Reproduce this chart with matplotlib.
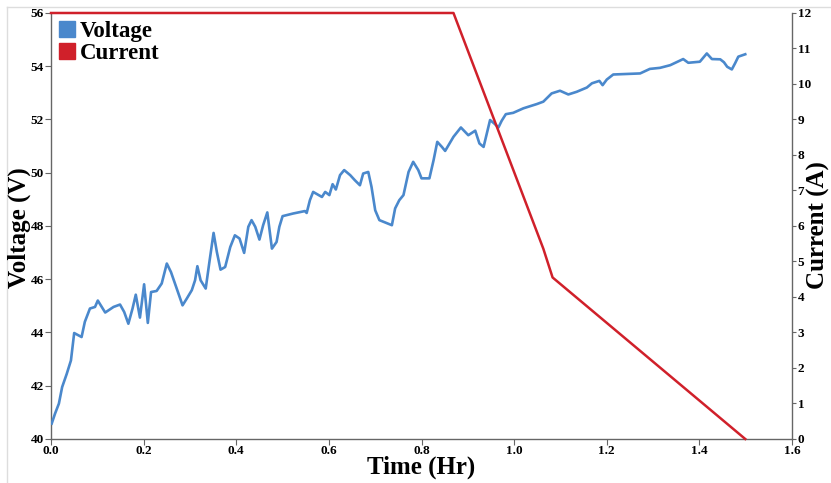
import matplotlib
matplotlib.use("Agg")
import matplotlib.pyplot as plt
from matplotlib.lines import Line2D

# Battery charging log: pack voltage and charge current vs. time
time_v = [0.0015, 0.0086, 0.017, 0.024, 0.034, 0.043, 0.050, 0.066, 0.073, 0.084,
          0.095, 0.101, 0.117, 0.135, 0.149, 0.158, 0.167, 0.176, 0.183, 0.192,
          0.201, 0.209, 0.216, 0.228, 0.239, 0.250, 0.259, 0.274, 0.284, 0.293,
          0.304, 0.311, 0.316, 0.323, 0.334, 0.342, 0.351, 0.358, 0.366, 0.376,
          0.387, 0.397, 0.407, 0.417, 0.426, 0.433, 0.441, 0.450, 0.458, 0.467,
          0.477, 0.487, 0.493, 0.500, 0.523, 0.548, 0.552, 0.559, 0.566, 0.585,
          0.592, 0.601, 0.608, 0.615, 0.624, 0.633, 0.646, 0.656, 0.667, 0.674,
          0.685, 0.692, 0.700, 0.709, 0.736, 0.743, 0.752, 0.761, 0.772, 0.782,
          0.793, 0.800, 0.817, 0.826, 0.834, 0.844, 0.851, 0.869, 0.885, 0.901,
          0.916, 0.925, 0.934, 0.941, 0.948, 0.957, 0.966, 0.973, 0.982, 0.998,
          1.020, 1.049, 1.063, 1.081, 1.099, 1.117, 1.135, 1.157, 1.168, 1.184,
          1.191, 1.200, 1.214, 1.272, 1.293, 1.315, 1.337, 1.365, 1.376, 1.401,
          1.416, 1.427, 1.445, 1.453, 1.460, 1.470, 1.477, 1.484, 1.499]
voltage = [40.58, 40.95, 41.33, 41.95, 42.45, 42.95, 43.98, 43.83, 44.40, 44.90,
           44.96, 45.20, 44.75, 44.96, 45.05, 44.77, 44.33, 44.90, 45.42, 44.56,
           45.81, 44.36, 45.52, 45.56, 45.84, 46.59, 46.27, 45.52, 45.02, 45.27,
           45.59, 45.96, 46.49, 45.96, 45.65, 46.65, 47.74, 47.03, 46.36, 46.46,
           47.21, 47.65, 47.53, 46.99, 47.97, 48.22, 47.97, 47.49, 48.03, 48.51,
           47.15, 47.40, 47.97, 48.37, 48.47, 48.56, 48.49, 48.97, 49.28, 49.09,
           49.28, 49.16, 49.57, 49.37, 49.91, 50.10, 49.91, 49.72, 49.53, 49.97,
           50.03, 49.47, 48.59, 48.22, 48.03, 48.66, 48.97, 49.16, 50.03, 50.41,
           50.10, 49.79, 49.79, 50.47, 51.16, 50.97, 50.82, 51.35, 51.70, 51.41,
           51.58, 51.10, 50.97, 51.48, 51.98, 51.85, 51.70, 51.95, 52.20, 52.25,
           52.42, 52.58, 52.67, 52.98, 53.08, 52.94, 53.04, 53.20, 53.36, 53.45,
           53.29, 53.50, 53.69, 53.73, 53.90, 53.94, 54.04, 54.27, 54.13, 54.17,
           54.48, 54.27, 54.26, 54.15, 53.98, 53.88, 54.11, 54.36, 54.45]

time_i = [0.0, 0.869, 1.063, 1.083, 1.499]
current = [12.0, 12.0, 5.36, 4.55, 0.0]

x_ticks = [0.0, 0.2, 0.4, 0.6, 0.8, 1.0, 1.2, 1.4, 1.6]
v_ticks = [40, 42, 44, 46, 48, 50, 52, 54, 56]
i_ticks = list(range(0, 13))

blue = "#4a88cc"
red = "#d0202a"
serif = ["Liberation Serif", "DejaVu Serif"]

fig = plt.figure(figsize=(8.31, 4.83), dpi=100)
ax = fig.add_axes([0.0614, 0.0911, 0.8917, 0.882])
ax2 = ax.twinx()

ax.plot(time_v, voltage, color=blue, lw=1.9, solid_joinstyle="round", zorder=3)
ax2.plot(time_i, current, color=red, lw=1.8, solid_joinstyle="round",
         clip_on=False, zorder=3)

ax.set_xlim(0, 1.6)
ax.set_ylim(40, 56)
ax2.set_ylim(0, 12)
ax.set_xticks(x_ticks)
ax.set_xticklabels([f"{t:.1f}" for t in x_ticks])
ax.set_yticks(v_ticks)
ax2.set_yticks(i_ticks)

spine_col = "#666666"
for a in (ax, ax2):
    a.spines["top"].set_visible(False)
    for s in ("left", "right", "bottom"):
        a.spines[s].set_color(spine_col)
        a.spines[s].set_linewidth(1.0)
ax.spines["right"].set_visible(False)
ax2.spines["left"].set_visible(False)
ax2.spines["bottom"].set_visible(False)

ax.tick_params(axis="x", direction="out", length=4, width=0.8, color=spine_col, pad=0)
ax.tick_params(axis="y", direction="out", length=4, width=0.8, color=spine_col, pad=1)
ax2.tick_params(axis="y", direction="out", length=3, width=0.8, color=spine_col, pad=1)

for lab in ax.get_xticklabels() + ax.get_yticklabels() + ax2.get_yticklabels():
    lab.set_fontfamily(serif)
    lab.set_fontweight("bold")
    lab.set_fontsize(9.5)

lab_kw = dict(fontfamily=serif, fontweight="bold", fontsize=18)
fig.text(421 / 831, 1 - 467 / 483, "Time (Hr)", ha="center", va="center", **lab_kw)
fig.text(19 / 831, 1 - 228 / 483, "Voltage (V)", rotation=90, ha="center", va="center", **lab_kw)
fig.text(818 / 831, 1 - 225 / 483, "Current (A)", rotation=90, ha="center", va="center", **lab_kw)

handles = [Line2D([], [], marker="s", ls="", markersize=12, color=blue),
           Line2D([], [], marker="s", ls="", markersize=12, color=red)]
leg = ax.legend(handles, ["Voltage", "Current"], loc="upper left",
                bbox_to_anchor=(-0.015, 1.025), frameon=False, handlelength=0.8,
                handletextpad=0.15, labelspacing=0.05, borderpad=0.3,
                prop=dict(family=serif, weight="bold", size=16.5))

# thin light frame along the top and left edges of the figure
fig.add_artist(Line2D([7 / 831, 1.0], [1 - 7 / 483, 1 - 7 / 483], color="#dddddd", lw=1.0))
fig.add_artist(Line2D([7 / 831, 7 / 831], [0.0, 1 - 7 / 483], color="#dddddd", lw=1.0))

fig.savefig("out.png", dpi=100)
